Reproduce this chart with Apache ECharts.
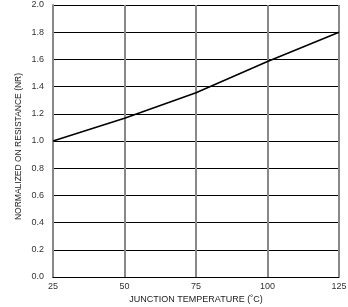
<!DOCTYPE html>
<html>
<head>
<meta charset="utf-8">
<script src="https://cdn.jsdelivr.net/npm/echarts@6/dist/echarts.min.js"></script>
<style>
  html, body { margin: 0; padding: 0; background: #fff; }
  #chart { width: 348px; height: 307px; }
</style>
</head>
<body>
<div id="chart"></div>
<script>
// junction temperature (C) vs normalized on-resistance
var temps = [25, 50, 75, 100, 125];
var nrValues = [1.0, 1.167, 1.355, 1.585, 1.8];
var xTicks = [25, 50, 75, 100, 125];

var myChart = echarts.init(document.getElementById('chart'));
var font = 'Liberation Sans, Arial, sans-serif';

var data = [];
for (var i = 0; i < temps.length; i++) {
	data.push([temps[i], nrValues[i]]);
}

var option = {
	animation : false,
	grid : {
		left : 53,
		right : 9,
		top : 5,
		bottom : 30,
		outerBoundsMode : 'none',
		containLabel : false
	},
	xAxis : {
		type : 'value',
		min : xTicks[0],
		max : xTicks[xTicks.length - 1],
		interval : 25,
		name : 'JUNCTION TEMPERATURE (˚C)',
		nameLocation : 'middle',
		nameGap : 18,
		nameMoveOverlap : false,
		nameTextStyle : { fontFamily : font, fontSize : 9, color : '#222' },
		axisLine : { lineStyle : { color : '#000', width : 1 } },
		axisTick : { show : false },
		axisLabel : { fontFamily : font, fontSize : 9, color : '#333', margin : 5 },
		splitLine : { show : true, lineStyle : { color : '#888', width : 2 } }
	},
	yAxis : {
		type : 'value',
		min : 0,
		max : 2,
		interval : 0.2,
		name : 'NORMALIZED ON RESISTANCE (NR)',
		nameLocation : 'middle',
		nameGap : 30,
		nameMoveOverlap : false,
		nameTextStyle : {
			fontFamily : font,
			fontSize : 8.5,
			color : '#222',
			padding : [0, 11, 0, 0]
		},
		axisLine : { show : true, lineStyle : { color : '#888', width : 2 } },
		axisTick : { show : false },
		axisLabel : {
			fontFamily : font,
			fontSize : 9,
			color : '#333',
			margin : 9,
			formatter : function(v) { return v.toFixed(1); }
		},
		splitLine : { show : true, lineStyle : { color : '#000', width : 1 } }
	},
	series : [ {
		type : 'line',
		showSymbol : false,
		lineStyle : { color : '#000', width : 1.5 },
		data : data
	} ]
};
myChart.setOption(option);
</script>
</body>
</html>
